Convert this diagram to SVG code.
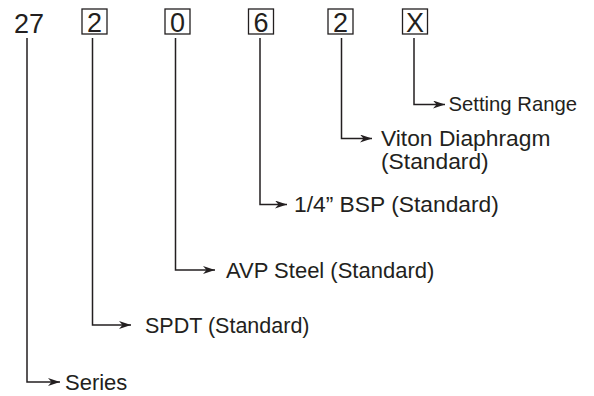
<svg xmlns="http://www.w3.org/2000/svg" width="594" height="396" viewBox="0 0 594 396">
<style>
.bg{fill:#fff}
.code{font-family:"Liberation Sans",Arial,sans-serif;font-size:27px;fill:#231f20}
.box{fill:none;stroke:#231f20;stroke-width:1.3}
.lbl{font-family:"Liberation Sans",Arial,sans-serif;font-size:22px;fill:#231f20}
.big{font-size:22.8px}
.small{font-size:20.3px}
.conn{fill:none;stroke:#231f20;stroke-width:1.5}
</style>
<defs>
<marker id="ah" markerWidth="12" markerHeight="8" refX="12" refY="4" orient="auto" markerUnits="userSpaceOnUse">
<path d="M0,0 L12,4 L0,8 L3.5,4 z" fill="#231f20"/>
</marker>
</defs>
<rect class="bg" x="0" y="0" width="594" height="396"/>
<g id="series">
<text class="code" x="14" y="32.5">27</text>
<text class="lbl" x="65" y="390">Series</text>
</g>
<g id="contacts">
<rect class="box" x="82" y="9" width="25" height="25"/>
<text class="code" x="94.5" y="32" text-anchor="middle">2</text>
<text class="lbl" x="145" y="332.5" style="font-size:21.5px">SPDT (Standard)</text>
</g>
<g id="material">
<rect class="box" x="165" y="9" width="25" height="25"/>
<text class="code" x="177.5" y="32" text-anchor="middle">0</text>
<text class="lbl" x="226" y="277.5">AVP Steel (Standard)</text>
</g>
<g id="connection">
<rect class="box" x="248.5" y="9" width="25" height="25"/>
<text class="code" x="261" y="32" text-anchor="middle">6</text>
<text class="lbl big" x="294" y="211.5">1/4” BSP (Standard)</text>
</g>
<g id="diaphragm">
<rect class="box" x="328" y="9" width="25" height="25"/>
<text class="code" x="340.5" y="32" text-anchor="middle">2</text>
<text class="lbl big" x="381" y="145.5">Viton Diaphragm</text>
<text class="lbl big" x="381" y="169">(Standard)</text>
</g>
<g id="range">
<rect class="box" x="402.5" y="9" width="25" height="25"/>
<text class="code" x="415" y="32" text-anchor="middle">X</text>
<text class="lbl small" x="448.5" y="110.5">Setting Range</text>
</g>
<g id="connectors">
<polyline class="conn" points="27,38 27,382 60,382" marker-end="url(#ah)"/>
<polyline class="conn" points="92.5,38 92.5,325 131,325" marker-end="url(#ah)"/>
<polyline class="conn" points="175.5,38 175.5,270 215,270" marker-end="url(#ah)"/>
<polyline class="conn" points="260,38 260,204.5 287,204.5" marker-end="url(#ah)"/>
<polyline class="conn" points="341.5,38 341.5,138.5 372,138.5" marker-end="url(#ah)"/>
<polyline class="conn" points="414,38 414,104.5 445,104.5" marker-end="url(#ah)"/>
</g>
</svg>
